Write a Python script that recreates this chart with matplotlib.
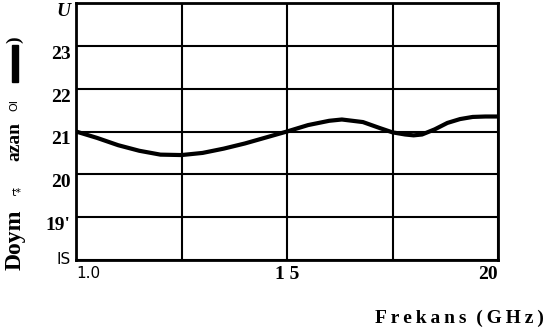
import matplotlib.pyplot as plt
from matplotlib.patches import Rectangle

# frequency (GHz) and saturated power
freq = [10.0, 10.5, 11.0, 11.5, 12.0, 12.5, 13.0, 13.5, 14.0, 14.5, 15.0,
        15.5, 16.0, 16.3, 16.8, 17.2, 17.5, 17.8, 18.0, 18.2, 18.5, 18.8,
        19.1, 19.4, 19.7, 20.0]
power = [21.0, 20.85, 20.68, 20.55, 20.46, 20.45, 20.5, 20.6, 20.72, 20.86, 21.0,
         21.15, 21.25, 21.28, 21.22, 21.08, 20.98, 20.93, 20.91, 20.93, 21.05, 21.2,
         21.29, 21.34, 21.35, 21.35]

x_ticks = [10, 12.5, 15, 17.5, 20]
x_labels = ["1.0", "", "1 5", "", "20"]
y_ticks = [18, 19, 20, 21, 22, 23, 24]
y_labels = ["IS", "19'", "20", "21", "22", "23", "U"]

W, H = 545, 333
fig = plt.figure(figsize=(W / 100, H / 100), dpi=100)
ax = fig.add_axes([76 / W, 1 - 260 / H, (498 - 76) / W, (260 - 3) / H])

ax.plot(freq, power, color="black", lw=3.0, solid_capstyle="round")
ax.set_xlim(10, 20)
ax.set_ylim(18, 24)

ax.set_xticks(x_ticks)
ax.set_xticklabels(x_labels)
ax.set_yticks(y_ticks)
ax.set_yticklabels(y_labels)
ax.grid(True, color="black", lw=1.5)
ax.tick_params(length=0, pad=4)
for s in ax.spines.values():
    s.set_linewidth(2)

serif = "Liberation Serif"
for lab in ax.get_yticklabels():
    lab.set_fontfamily(serif)
    lab.set_fontweight("bold")
    lab.set_fontsize(14)
    lab.set_verticalalignment("top")
ylabs = ax.get_yticklabels()
ylabs[0].set_fontfamily("DejaVu Sans")
ylabs[0].set_fontweight("normal")
ylabs[0].set_fontsize(11)
ylabs[0].set_verticalalignment("center")
ylabs[-1].set_fontstyle("italic")

xlabs = ax.get_xticklabels()
for lab in xlabs:
    lab.set_fontfamily(serif)
    lab.set_fontweight("bold")
    lab.set_fontsize(14)
xlabs[0].set_fontfamily("DejaVu Sans")
xlabs[0].set_fontweight("normal")
xlabs[0].set_fontsize(11)
xlabs[0].set_horizontalalignment("left")
xlabs[-1].set_horizontalalignment("right")


def px(x, y):
    return x / W, 1 - y / H


fig.text(*px(544, 318), "\u2009".join("Frekans") + "  " + "\u2009".join("(GHz)"),
         fontfamily=serif, fontweight="bold", fontsize=14, ha="right", va="center")

# garbled y-axis title pieces
fig.text(*px(15, 240), "Doym", fontfamily=serif, fontweight="bold", fontsize=17,
         rotation=90, ha="center", va="center")
fig.text(*px(17, 193), "t*", fontfamily="DejaVu Sans", fontsize=8,
         ha="center", va="center")
fig.text(*px(15, 142), "azan", fontfamily=serif, fontweight="bold", fontsize=14,
         rotation=90, ha="center", va="center")
fig.text(*px(14, 105), "OI", fontfamily="DejaVu Sans", fontsize=8,
         rotation=90, ha="center", va="center")
fig.patches.append(Rectangle(px(12, 82), 6 / W, 37 / H, color="black",
                             transform=fig.transFigure, figure=fig))
fig.text(*px(15, 40), ")", fontfamily=serif, fontweight="bold", fontsize=14,
         rotation=90, ha="center", va="center")

fig.savefig("out.png", dpi=100)
